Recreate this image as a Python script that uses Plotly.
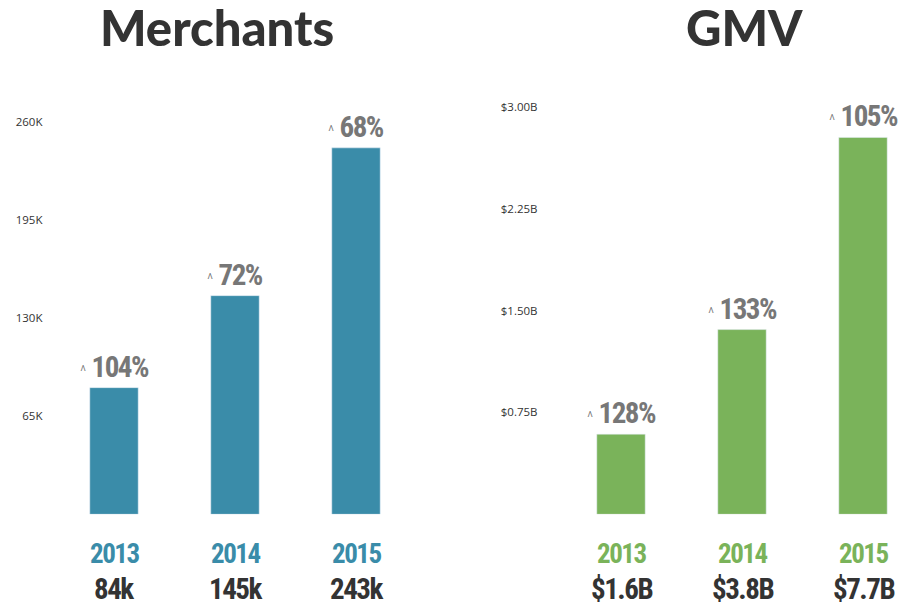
import plotly.graph_objects as go

years = ["2013", "2014", "2015"]
merchants_k = [84, 145, 243]
merchants_labels = ["84k", "145k", "243k"]
merchants_growth = ["104%", "72%", "68%"]
gmv_bar_b = [0.59, 1.36, 2.775]
gmv_labels = ["$1.6B", "$3.8B", "$7.7B"]
gmv_growth = ["128%", "133%", "105%"]
m_tickvals = [65, 130, 195, 260]
m_ticktext = ["65K", "130K", "195K", "260K"]
g_tickvals = [0.75, 1.5, 2.25, 3.0]
g_ticktext = ["$0.75B", "$1.50B", "$2.25B", "$3.00B"]

TEAL = "#3a8ca9"
GREEN = "#7ab35a"
COND = "Roboto, Open Sans, sans-serif"
W, H = 900, 613


def cond(t, size=None, weight=None, ls=-1.5):
    s = f"font-stretch:75%;letter-spacing:{ls}px"
    if size:
        s += f";font-size:{size}px"
    if weight:
        s += f";font-weight:{weight}"
    return f"<span style='{s}'>{t}</span>"


xs = [0, 1, 2]
fig = go.Figure()
fig.add_trace(go.Bar(x=xs, y=merchants_k, width=0.4, marker_color=TEAL,
                     xaxis="x", yaxis="y", hoverinfo="skip"))
fig.add_trace(go.Bar(x=xs, y=gmv_bar_b, width=0.4, marker_color=GREEN,
                     xaxis="x2", yaxis="y2", hoverinfo="skip"))

ybot = 1 - 513 / H
ytop = 1 - 100 / H
tickfont = dict(family="Open Sans, sans-serif", size=11.5, color="#333")

fig.update_layout(
    width=W, height=H, margin=dict(l=0, r=0, t=0, b=0),
    paper_bgcolor="white", plot_bgcolor="white", showlegend=False,
    xaxis=dict(domain=[53.5 / W, 416.5 / W], range=[-0.5, 2.5], showticklabels=False,
               showgrid=False, zeroline=False, showline=False),
    xaxis2=dict(domain=[560.5 / W, 899.3 / W], range=[-0.5, 2.3], showticklabels=False,
                showgrid=False, zeroline=False, showline=False, anchor="y2"),
    yaxis=dict(domain=[ybot, ytop], range=[0, 270.3], tickvals=m_tickvals,
               ticktext=m_ticktext, showgrid=False, zeroline=False, showline=False,
               tickfont=tickfont, ticklabelstandoff=10, anchor="x"),
    yaxis2=dict(domain=[ybot, ytop], range=[0, 3.001], tickvals=g_tickvals,
                ticktext=g_ticktext, showgrid=False, zeroline=False, showline=False,
                tickfont=tickfont, ticklabelstandoff=22, anchor="x2"),
)

ann = []
title_font = dict(family="Lato, Inter, sans-serif", size=49, color="#333", weight=900)
ann.append(dict(text="Merchants", x=217 / W, y=1 - 19 / H, xref="paper", yref="paper",
                showarrow=False, font=title_font, xanchor="center", yanchor="middle"))
ann.append(dict(text="GMV", x=744 / W, y=1 - 19 / H, xref="paper", yref="paper",
                showarrow=False, font=title_font, xanchor="center", yanchor="middle"))

pct_font = dict(family=COND, size=29, color="#777", weight="bold")
year_y = 1 - 553 / H
val_y = 1 - 589 / H
for axn, vals, growth, labels, col in [("", merchants_k, merchants_growth, merchants_labels, TEAL),
                                      ("2", gmv_bar_b, gmv_growth, gmv_labels, GREEN)]:
    for i in range(3):
        ann.append(dict(text=cond("^", 17, 300, 0) + cond(" " + growth[i]),
                        x=xs[i], y=vals[i], xref="x" + axn, yref="y" + axn,
                        showarrow=False, font=pct_font, xanchor="center", yanchor="bottom",
                        yshift=2))
        ann.append(dict(text=cond(years[i]), x=xs[i], y=year_y, xref="x" + axn, yref="paper",
                        showarrow=False, font=dict(family=COND, size=27, color=col, weight="bold"),
                        xanchor="center", yanchor="middle"))
        ann.append(dict(text=cond(labels[i]), x=xs[i], y=val_y, xref="x" + axn, yref="paper",
                        showarrow=False, font=dict(family=COND, size=29, color="#333", weight="bold"),
                        xanchor="center", yanchor="middle"))
fig.update_layout(annotations=ann)
fig.write_html("out.html", config={"displayModeBar": False},
               post_script="document.body.style.margin='0';")
